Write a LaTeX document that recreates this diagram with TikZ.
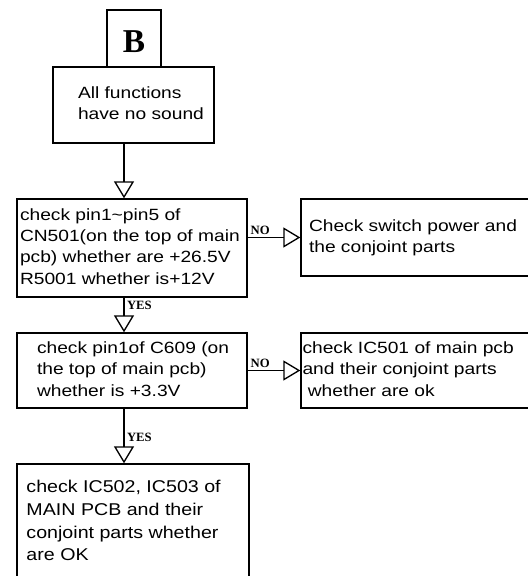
\documentclass[tikz,border=0pt]{standalone}
\usepackage{fontspec}
\usepackage{graphicx}
\usetikzlibrary{arrows.meta}
\newfontfamily\flowfont{Liberation Sans}
\newfontfamily\tagfont{Liberation Serif}
\newdimen\pxunit
\pxunit=0.75pt
\newcommand\flowstretch{1.18}
% left-aligned lines in a box of given width, with a left gap
\newcommand\boxlines[3]{\makebox[#1\pxunit][l]{\hspace*{#2\pxunit}\scalebox{\flowstretch}[1]{\begin{tabular}{@{}l@{}}#3\end{tabular}}}}
\tikzset{
  boxsize/.style 2 args={minimum width=#1*0.75pt,minimum height=#2*0.75pt},
  flowbox/.style={draw,line width=1pt,inner sep=0pt,font=\flowfont\fontsize{12.2}{16}\selectfont},
  flow/.style={line width=1pt,-{Triangle[open,length=12.75pt,width=15pt]}},
  tag/.style={inner sep=1.8pt,font=\tagfont\bfseries\fontsize{9.5}{10}\selectfont}
}

\begin{document}
\begin{tikzpicture}[x=0.75pt,y=-0.75pt]
  \useasboundingbox (0,0) rectangle (528,576);
  \clip (0,0) rectangle (528,576);
  \coordinate (spine) at (124,0);

  \node[draw,line width=1pt,inner sep=0pt,boxsize={54}{57},text height=21pt,text depth=0pt,
        font=\tagfont\bfseries\fontsize{25}{25}\selectfont] (tagB) at (134,38.5) {B};
  \node[flowbox,boxsize={161}{76}] (start) at (133.5,105)
    {\boxlines{161}{25}{All functions\\have no sound}};

  \node[flowbox,boxsize={230}{98}] (checkCN) at (132,248)
    {\boxlines{230}{3}{check pin1\textasciitilde pin5 of\\CN501(on the top of main\\pcb) whether are +26.5V\\R5001 whether is+12V}};
  \node[flowbox,boxsize={234}{77}] (checkPower) at (418,237.5)
    {\boxlines{234}{8}{Check switch power and\\the conjoint parts}};

  \node[flowbox,boxsize={230}{75}] (checkC) at (132,370.5)
    {\boxlines{230}{20}{check pin1of C609 (on\\the top of main pcb)\\whether is +3.3V}};
  \node[flowbox,boxsize={234}{75}] (checkIC) at (418,370.5)
    {\boxlines{234}{1.5}{check IC501 of main pcb\\and their conjoint parts\\\ whether are ok}};

  \node[flowbox,boxsize={232}{116},font=\flowfont\fontsize{12.8}{17.2}\selectfont] (checkMain) at (133,522)
    {\renewcommand\flowstretch{1.15}\boxlines{232}{9.5}{check IC502, IC503 of\\MAIN PCB and their\\conjoint parts whether\\are OK}};

  % connectors
  \draw[flow] (start.south -| spine) -- (checkCN.north -| spine);
  \draw[flow] (checkCN.east |- checkPower.west) -- node[tag,pos=0,anchor=south west] (noA) {NO} (checkPower.west);
  \draw[flow] (checkCN.south -| spine) -- node[tag,pos=0,anchor=north west] (yesA) {YES} (checkC.north -| spine);
  \draw[flow] (checkC.east |- checkIC.west) -- node[tag,pos=0,anchor=south west] (noB) {NO} (checkIC.west);
  \draw[flow] (checkC.south -| spine) -- node[tag,pos=0.66,anchor=south west] (yesB) {YES} (checkMain.north -| spine);
\end{tikzpicture}
\end{document}
